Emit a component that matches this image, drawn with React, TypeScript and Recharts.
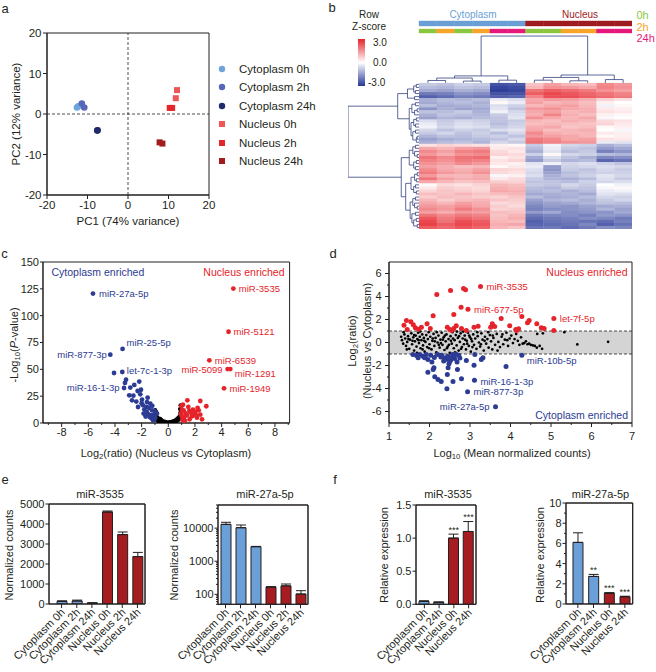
import React from 'react';
import {
  ScatterChart,
  Scatter,
  ComposedChart,
  Bar,
  Cell,
  ErrorBar,
  XAxis,
  YAxis,
  ReferenceArea,
  ReferenceLine,
} from 'recharts';

const INK = '#231f20';
const FONT = '"Liberation Sans", Arial, Helvetica, sans-serif';
const BLUE_PT = '#2c3b93';
const RED_PT = '#e5232a';
const CYTO_BAR = '#6b9fd8';
const NUC_BAR = '#a51d20';
const DENDRO = '#34417f';
const AX = { stroke: INK, strokeWidth: 1 };

// ---------- a: PCA ----------
const pcaCyto0h = [[-12.6, 1.6], [-12.3, 1.9]];
const pcaCyto2h = [[-11.4, 2.6], [-10.8, 1.6]];
const pcaCyto24h = [[-7.6, -4.1], [-7.5, -4.0]];
const pcaNuc0h = [[12.1, 5.9], [11.8, 3.9]];
const pcaNuc2h = [[10.3, 1.5], [10.9, 1.5]];
const pcaNuc24h = [[7.8, -7.0], [8.5, -7.3]];
const pcaTicks = [-20, -10, 0, 10, 20];

// ---------- b: heatmap (row z-scores, 12 samples) ----------
const hmConditions = ['Cytoplasm', 'Cytoplasm', 'Cytoplasm', 'Cytoplasm', 'Cytoplasm', 'Cytoplasm', 'Nucleus', 'Nucleus', 'Nucleus', 'Nucleus', 'Nucleus', 'Nucleus'];
const hmTimes = ['0h', '2h', '0h', '2h', '24h', '24h', '0h', '0h', '2h', '2h', '24h', '24h'];
const heatmap = [
  [-0.8, -0.9, -0.7, -0.8, -2.6, -2.5, 0.8, 1.3, 1.0, 0.9, 1.6, 1.4],
  [-1.0, -1.1, -0.9, -1.0, -2.8, -2.7, 1.0, 1.5, 1.4, 1.2, 1.7, 1.5],
  [-1.3, -1.4, -1.2, -1.3, -2.9, -2.8, 1.9, 2.2, 2.0, 1.8, 1.5, 1.3],
  [-2.0, -1.9, -1.6, -1.7, -2.6, -2.6, 2.2, 2.5, 2.3, 2.1, 1.9, 1.7],
  [-2.4, -2.2, -1.9, -2.0, -2.4, -2.3, 1.7, 2.4, 2.4, 2.2, 2.0, 1.8],
  [-1.2, -1.0, -1.1, -1.0, -0.3, -0.5, 1.2, 1.4, 1.3, 1.1, 0.6, 0.4],
  [-1.3, -1.1, -1.0, -1.2, 0.1, -0.3, 1.3, 1.0, 1.1, 0.9, 0.2, 0.0],
  [-1.0, -1.3, -1.2, -1.1, -0.5, -0.7, 1.0, 1.2, 1.3, 1.0, -0.2, 0.1],
  [-1.6, -1.2, -1.4, -1.3, -0.4, -0.9, 1.4, 1.5, 1.2, 1.1, 0.3, 0.2],
  [-0.9, -1.0, -0.8, -1.2, -0.2, -0.6, 1.2, 1.3, 1.0, 1.1, 0.4, 0.3],
  [-1.2, -0.9, -1.0, -1.1, -0.8, -0.5, 1.1, 1.7, 1.1, 0.9, 0.2, 0.1],
  [-1.4, -1.1, -1.2, -1.0, -0.9, -0.4, 1.5, 1.2, 1.0, 1.2, -0.1, 0.0],
  [-0.5, -0.8, -0.6, -0.7, -0.9, -0.8, 1.0, 0.9, 1.1, 1.0, 0.5, 0.4],
  [-0.3, -0.7, -0.5, -0.6, -1.0, -0.7, 0.9, 1.0, 0.9, 0.8, 0.6, 0.3],
  [-0.2, -0.6, -0.4, -0.5, -0.8, -0.6, 1.1, 1.2, 0.8, 0.9, 0.1, 0.2],
  [-0.6, -0.9, -0.7, -0.8, -0.5, -0.4, 1.2, 0.9, 1.0, 1.1, 0.0, -0.1],
  [-0.8, -0.6, -0.9, -0.7, -1.0, -0.6, 1.6, 1.1, 1.0, 1.0, 0.3, 0.2],
  [-1.1, -0.9, -1.0, -0.8, -0.7, -0.9, 1.4, 1.3, 1.2, 1.0, 0.1, 0.2],
  [-1.4, -1.2, -1.1, -1.0, -0.9, -0.6, 1.8, 1.6, 1.2, 1.3, 0.4, 0.3],
  [-1.2, -1.0, -0.9, -1.1, -0.6, -0.8, 1.9, 1.7, 1.5, 1.4, -0.3, -0.4],
  [0.4, 0.6, 0.5, 0.4, 0.2, 0.1, -0.8, -0.2, -0.6, -0.7, -1.2, -1.0],
  [1.2, 1.0, 1.3, 1.4, 0.3, 0.4, -1.0, -0.3, -0.8, -0.9, -1.5, -1.3],
  [1.6, 1.3, 1.7, 1.8, 0.5, 0.3, -1.2, -0.4, -1.0, -0.8, -1.9, -1.6],
  [1.4, 1.1, 1.5, 1.6, 0.6, 0.5, -0.7, 0.1, -0.6, -0.7, -1.0, -1.1],
  [1.9, 1.6, 1.9, 2.0, 0.2, 0.4, -1.3, -0.5, -0.9, -1.2, -1.8, -1.7],
  [1.7, 1.5, 1.8, 1.7, 0.4, 0.6, -1.5, -0.8, -1.1, -1.0, -2.3, -2.1],
  [1.5, 1.3, 1.6, 1.4, 0.3, 0.2, -0.4, -0.2, -0.6, -0.5, -0.7, -0.9],
  [1.3, 1.1, 0.9, 1.0, 0.1, 0.3, -0.3, -1.5, -0.7, -0.6, -0.5, -0.6],
  [1.6, 1.2, 1.1, 1.3, 0.6, 0.5, -0.5, -1.6, -0.8, -0.9, -0.6, -0.8],
  [1.8, 1.4, 1.2, 1.5, 0.5, 0.4, -0.6, -1.4, -1.0, -0.8, -0.7, -0.7],
  [1.4, 1.0, 1.0, 1.1, -0.1, 0.2, -0.5, -1.2, -0.9, -0.7, -0.4, -0.6],
  [1.9, 1.3, 1.1, 1.2, 0.3, 0.5, -0.8, -1.1, -1.2, -1.0, -0.5, -0.8],
  [1.2, 1.0, 0.8, 0.9, 0.7, 0.6, -0.9, -0.9, -1.0, -0.7, -0.6, -0.5],
  [0.1, 0.5, 0.4, 0.6, 1.0, 0.9, -0.8, -0.9, -0.6, -0.8, 0.0, -0.2],
  [0.3, 0.7, 0.6, 0.5, 1.1, 1.0, -1.0, -1.1, -0.8, -0.9, -0.1, 0.1],
  [0.6, 0.8, 0.7, 0.6, 1.2, 1.1, -1.1, -1.0, -1.2, -1.0, -0.3, -0.2],
  [0.9, 0.8, 1.0, 0.8, 0.9, 1.0, -1.3, -1.2, -1.1, -1.3, -0.4, -0.5],
  [0.7, 0.9, 0.8, 0.7, 0.6, 0.8, -1.0, -1.3, -1.2, -1.0, -0.6, -0.7],
  [1.0, 0.7, 0.9, 1.0, 0.8, 0.7, -1.4, -1.1, -1.0, -1.2, -0.8, -0.6],
  [1.2, 1.0, 1.3, 1.1, 0.5, 0.6, -1.6, -1.4, -1.3, -1.1, -0.9, -1.0],
  [1.4, 1.3, 1.5, 1.2, 0.7, 0.5, -1.8, -1.5, -1.6, -1.4, -1.3, -1.2],
  [1.6, 1.4, 1.8, 1.5, 0.6, 0.7, -1.9, -1.7, -1.6, -1.5, -1.1, -1.4],
  [1.3, 1.1, 1.4, 1.3, 0.9, 0.8, -1.5, -1.3, -1.7, -1.6, -1.6, -1.3],
  [1.9, 1.6, 1.8, 1.7, 0.8, 1.0, -2.0, -1.8, -1.7, -1.9, -1.5, -1.6],
  [2.3, 1.8, 2.1, 1.9, 0.9, 1.1, -2.2, -2.0, -1.9, -1.7, -1.8, -2.0],
  [2.5, 1.9, 2.4, 2.2, 1.0, 0.9, -2.4, -2.1, -2.0, -2.1, -2.2, -1.9],
  [2.6, 2.2, 2.5, 2.3, 1.1, 1.2, -2.3, -2.2, -2.1, -1.8, -2.4, -2.1],
  [2.2, 2.0, 2.3, 2.1, 1.0, 0.8, -2.1, -2.0, -2.2, -2.0, -1.7, -1.8],
];
// dendrograms: [mergeHeight, left, right], leaves are row / column indices
type Tree = number | [number, Tree, Tree];
const rowTree: Tree = [4.0,
  [1.2,
    [0.65, [0.3, [0.15, 0, 1], [0.2, 2, 3]], [0.25, 4, 5]],
    [0.55,
      [0.4, [0.2, 6, 7], [0.25, [0.1, 8, 9], 10]],
      [0.45, [0.3, [0.15, 11, 12], [0.2, 13, 14]], [0.35, [0.2, 15, 16], [0.15, [0.1, 17, 18], 19]]]]],
  [1.0,
    [0.55, [0.35, [0.2, 20, 21], [0.25, 22, [0.1, 23, 24]]], [0.3, [0.15, 25, 26], [0.2, 27, 28]]],
    [0.75,
      [0.45, [0.25, [0.1, 29, 30], [0.15, 31, 32]], [0.3, [0.2, 33, 34], [0.15, 35, 36]]],
      [0.5, [0.35, [0.2, 37, 38], [0.25, 39, [0.1, 40, 41]]], [0.4, [0.2, 42, 43], [0.3, [0.15, 44, 45], [0.1, 46, 47]]]]]]];
const colTree: Tree = [15.4,
  [2.3, [1.6, [0.8, 0, 1], [0.6, 2, 3]], [0.9, 4, 5]],
  [2.6, [1.8, [0.9, 6, 7], [0.7, 8, 9]], [1.1, 10, 11]]];

// ---------- c: volcano (log2 ratio, -log10 p) ----------
const volcanoOther = [
  [-1.0, 9], [-0.98, 12], [-0.95, 6], [-0.92, 10.5], [-0.9, 4.5], [-0.9, 7.5], [-0.85, 3], [-0.8, 5], [-0.8, 2],
  [-0.75, 4], [-0.7, 3.2], [-0.7, 1.5], [-0.65, 2.5], [-0.6, 3.8], [-0.6, 1], [-0.55, 2], [-0.5, 1.4], [-0.5, 2.8],
  [-0.45, 0.8], [-0.4, 1.6], [-0.4, 0.5], [-0.35, 1], [-0.3, 0.6], [-0.25, 1.2], [-0.2, 0.3], [-0.15, 0.7],
  [-0.1, 0.2], [-0.05, 0.4], [0, 0.1], [0.05, 0.5], [0.1, 0.2], [0.15, 0.8], [0.2, 0.4], [0.25, 1.1], [0.3, 0.6],
  [0.35, 1.5], [0.4, 0.9], [0.45, 2.1], [0.5, 1.3], [0.55, 2.8], [0.6, 1.8], [0.65, 3.6], [0.7, 2.4], [0.75, 4.8],
  [0.8, 3.2], [0.85, 6.5], [0.9, 9.5], [0.88, 13], [0.92, 16.5], [0.95, 5],
];
const volcanoCyto = [
  [-4.07, 46.6], [-3.17, 40.4], [-3.25, 37.3], [-2.18, 38.6], [-2.85, 33], [-2.93, 25.8], [-2.62, 25.5], [-2.3, 29.8],
  [-2.1, 26.7], [-1.97, 21.8], [-1.55, 23.6], [-2.27, 14.9], [-1.65, 14.9], [-1.6, 10.2], [-1.35, 18], [-1.22, 11.8],
  [-1.1, 7.2], [-0.98, 5], [-0.85, 8.8], [-1.3, 7.2], [-2.72, 21.1], [-1.85, 8.8], [-2.0, 18.5], [-1.8, 12.5],
  [-1.45, 14], [-1.25, 4.5], [-1.15, 2.5], [-1.4, 5.5], [-1.05, 3], [-1.5, 8], [-1.7, 6], [-1.9, 16.5], [-2.4, 20],
  [-1.2, 16], [-1.02, 11], [-1.6, 19.5], [-2.55, 35.5], [-2.05, 31],
];
const volcanoNuc = [
  [1.43, 21.1], [2.4, 20.5], [2.85, 15.6], [0.98, 15.6], [1.15, 11.8], [1.58, 11.2], [1.85, 12.5], [2.03, 10.3],
  [2.28, 11.8], [0.95, 8.8], [1.4, 7.2], [1.78, 6.2], [2.15, 5], [2.4, 7.8], [2.53, 3.4], [1.05, 3], [1.2, 5.5],
  [1.3, 9], [1.6, 3.5], [1.0, 6.5], [1.7, 9.5], [1.95, 8], [2.2, 14], [1.25, 2], [1.02, 12], [1.5, 15], [2.1, 7],
  [1.1, 17],
];
const volcanoCytoNamed = [
  { name: 'miR-27a-5p', x: -5.65, y: 120.6 },
  { name: 'miR-25-5p', x: -3.43, y: 69 },
  { name: 'miR-877-3p', x: -4.35, y: 63.7 },
  { name: 'let-7c-1-3p', x: -3.45, y: 47.5 },
  { name: 'miR-16-1-3p', x: -3.32, y: 32.6 },
];
const volcanoNucNamed = [
  { name: 'miR-3535', x: 4.88, y: 125.2 },
  { name: 'miR-5121', x: 4.52, y: 85 },
  { name: 'miR-6539', x: 3.08, y: 58.4 },
  { name: 'miR-5099', x: 4.45, y: 50.2 },
  { name: 'miR-1291', x: 4.65, y: 50.2 },
  { name: 'miR-1949', x: 4.18, y: 32.3 },
];

// ---------- d: MA plot (log10 mean counts, log2 ratio) ----------
const maOther = [
  [1.3, 0.5], [1.32, 0.2], [1.35, -0.1], [1.38, 0.7], [1.4, 0.35], [1.42, -0.3], [1.45, 0.05], [1.47, 0.55], [1.5, -0.55],
  [1.52, 0.25], [1.55, 0.8], [1.57, -0.15], [1.6, 0.45], [1.62, -0.7], [1.64, 0.1], [1.66, 0.6], [1.68, -0.35], [1.7, 0.3],
  [1.72, 0.85], [1.74, -0.05], [1.76, 0.5], [1.78, -0.5], [1.8, 0.2], [1.82, 0.7], [1.84, -0.25], [1.86, 0.4], [1.88, -0.8],
  [1.9, 0.05], [1.92, 0.65], [1.94, -0.4], [1.96, 0.3], [1.98, 0.9], [2.0, -0.15], [2.02, 0.5], [2.05, -0.6], [2.07, 0.15],
  [2.1, 0.75], [2.12, -0.3], [2.15, 0.4], [2.17, -0.85], [2.2, 0.0], [2.22, 0.6], [2.25, -0.45], [2.27, 0.25], [2.3, 0.85],
  [2.32, -0.2], [2.35, 0.45], [2.37, -0.65], [2.4, 0.1], [2.42, 0.7], [2.45, -0.35], [2.47, 0.3], [2.5, -0.9], [2.52, 0.55],
  [2.55, -0.1], [2.57, 0.9], [2.6, -0.5], [2.62, 0.2], [2.65, 0.65], [2.67, -0.25], [2.7, 0.4], [2.72, -0.7], [2.75, 0.05],
  [2.77, 0.8], [2.8, -0.4], [2.82, 0.35], [2.85, -0.15], [2.87, 0.6], [2.9, -0.6], [2.92, 0.15], [2.95, 0.85], [2.97, -0.3],
  [3.0, 0.45], [3.02, -0.8], [3.05, 0.1], [3.08, 0.7], [3.1, -0.2], [3.13, 0.35], [3.16, -0.55], [3.19, 0.55], [3.22, 0.0],
  [3.25, -0.35], [3.28, 0.8], [3.31, 0.25], [3.34, -0.7], [3.37, 0.5], [3.4, -0.1], [3.43, 0.3], [3.46, -0.45], [3.49, 0.65],
  [3.52, 0.1], [3.55, -0.6], [3.58, 0.4], [3.62, -0.2], [3.66, 0.75], [3.7, 0.05], [3.74, -0.4], [3.78, 0.5], [3.82, -0.15],
  [3.86, 0.25], [3.9, 0.85], [3.94, -0.3], [3.98, 0.35], [4.02, 0.6], [4.06, -0.05], [4.1, 0.3], [4.14, 0.75], [4.18, 0.15],
  [4.22, -0.2], [4.26, 0.45], [4.3, -0.1], [4.34, -0.05], [4.38, 0.1], [4.42, -0.15], [4.46, -0.1], [4.5, -0.2], [4.55, -0.25],
  [4.6, -0.3], [4.65, -0.45], [4.72, -0.3], [4.78, -0.55], [4.66, 0.75], [4.8, 0.8], [5.33, 0.9], [5.65, -0.17], [6.41, 0.06],
  [1.36, 0.9], [1.44, -0.6], [1.58, 0.15], [1.69, -0.9], [1.77, 0.95], [1.87, 0.15], [1.99, -0.5], [2.08, 0.35], [2.18, 0.9],
  [2.28, -0.05], [2.38, 0.6], [2.48, -0.2], [2.58, 0.35], [2.68, 0.95], [2.78, -0.55], [2.88, 0.25], [2.98, 0.6], [3.06, -0.4],
  [3.18, 0.9], [3.27, -0.15], [3.36, 0.15], [3.45, 0.9], [3.56, 0.6], [3.68, -0.7], [3.8, 0.7], [3.92, 0.2], [1.48, 0.3],
  [1.62, 0.65], [1.73, 0.2], [1.83, -0.6], [2.13, 0.1], [2.23, -0.2], [2.33, 0.25], [2.43, -0.5], [2.53, 0.15], [2.63, -0.85],
  [2.73, 0.55], [2.83, 0.95], [2.93, -0.1], [3.03, 0.3],
];
const maNuc = [
  [2.84, 4.7], [2.89, 4.58], [2.52, 4.52], [2.18, 4.17], [2.78, 3.07], [2.6, 2.43], [2.09, 2.32], [3.77, 2.09], [4.28, 2.26],
  [4.46, 1.91], [4.42, 1.71], [3.55, 1.63], [3.98, 1.45], [4.65, 1.63], [4.76, 1.28], [4.83, 1.22], [5.07, 1.04], [4.13, 1.13],
  [4.15, 1.05], [4.2, 1.2], [1.43, 1.91], [1.54, 1.8], [1.37, 1.5], [1.65, 1.28], [1.73, 1.16], [1.8, 1.33], [1.94, 1.63],
  [2.02, 1.22], [1.45, 1.13], [2.44, 1.33], [2.5, 1.13], [2.6, 1.22], [2.66, 1.45], [2.79, 1.22], [2.91, 1.04], [3.1, 1.33],
  [3.2, 1.42], [3.51, 1.33], [3.61, 1.39], [2.55, 1.05], [1.6, 1.55],
];
const maCyto = [
  [2.43, -4.03], [2.79, -3.16], [2.58, -3.39], [2.29, -3.39], [2.21, -3.22], [2.13, -2.98], [1.96, -2.58], [2.44, -2.78],
  [2.11, -2.2], [2.09, -2.35], [3.89, -2.09], [3.1, -1.97], [2.91, -1.57], [2.69, -2.35], [2.46, -2.2], [3.32, -1.33],
  [3.28, -1.48], [3.12, -1.04], [1.59, -1.05], [1.68, -1.13], [1.76, -1.05], [1.84, -1.19], [1.92, -1.04], [1.88, -1.33],
  [1.72, -1.33], [2.03, -1.1], [1.96, -1.48], [2.3, -1.1], [2.38, -1.35], [2.45, -1.2], [2.52, -1.55], [2.57, -1.05],
  [2.62, -1.4], [2.68, -1.7], [2.35, -1.6], [2.48, -1.85], [2.6, -1.2], [2.72, -1.1], [2.42, -1.45], [2.55, -1.3],
  [2.65, -1.0], [2.28, -1.25], [2.5, -1.65], [2.75, -1.35], [2.2, -1.05], [2.12, -1.3], [2.06, -1.7],
];
const maNucNamed = [
  { name: 'miR-3535', x: 3.26, y: 4.87 },
  { name: 'miR-677-5p', x: 2.95, y: 2.9 },
  { name: 'let-7f-5p', x: 5.07, y: 2.09 },
];
const maCytoNamed = [
  { name: 'miR-10b-5p', x: 4.28, y: -1.1 },
  { name: 'miR-16-1-3p', x: 3.11, y: -3.28 },
  { name: 'miR-877-3p', x: 2.94, y: -4.29 },
  { name: 'miR-27a-5p', x: 3.63, y: -5.59 },
];

// ---------- e / f: bar charts ----------
const groupsE = ['Cytoplasm 0h', 'Cytoplasm 2h', 'Cytoplasm 24h', 'Nucleus 0h', 'Nucleus 2h', 'Nucleus 24h'];
const e3535Mean = [130, 150, 50, 4600, 3470, 2370];
const e3535Err = [30, 45, 10, 50, 130, 210];
const e27aMean = [13000, 10300, 2750, 165, 180, 102];
const e27aErr = [2000, 2150, 60, 6, 25, 27];
const groupsF = ['Cytoplasm 0h', 'Cytoplasm 24h', 'Nucleus 0h', 'Nucleus 24h'];
const f3535Mean = [0.045, 0.03, 1.0, 1.1];
const f3535Err = [0.008, 0.006, 0.06, 0.15];
const f3535Sig = ['', '', '***', '***'];
const f27aMean = [6.1, 2.73, 1.05, 0.72];
const f27aErr = [0.95, 0.2, 0.08, 0.05];
const f27aSig = ['', '**', '***', '***'];
const logTicks = [50, 60, 70, 80, 90, 100, 200, 300, 400, 500, 600, 700, 800, 900, 1000, 2000, 3000, 4000, 5000, 6000, 7000, 8000, 9000, 10000, 20000, 30000, 40000, 50000];

const toPts = (a: number[][]) => a.map(([x, y]) => ({ x, y }));

const PCA_COLORS: Record<string, string> = {
  'Cytoplasm 0h': '#6fa3dc',
  'Cytoplasm 2h': '#5866b8',
  'Cytoplasm 24h': '#1f2a6b',
  'Nucleus 0h': '#ef5658',
  'Nucleus 2h': '#e3262b',
  'Nucleus 24h': '#a11b1f',
};
const TIME_COLORS: Record<string, string> = { '0h': '#8cc63f', '2h': '#f7a428', '24h': '#e6177b' };
const COND_COLORS: Record<string, string> = { Cytoplasm: '#6a9fd5', Nucleus: '#9e1b20' };

// label placement for named points: dx, dy, anchor
const C_LABEL_POS: Record<string, [number, number, string]> = {
  'miR-27a-5p': [6, 0, 'start'],
  'miR-25-5p': [4, -6, 'start'],
  'miR-877-3p': [-3.5, 0, 'end'],
  'let-7c-1-3p': [4.5, -1, 'start'],
  'miR-16-1-3p': [-4.5, 0, 'end'],
  'miR-3535': [5.5, 0, 'start'],
  'miR-5121': [5, 0, 'start'],
  'miR-6539': [5.5, 0, 'start'],
  'miR-5099': [-5, 0, 'end'],
  'miR-1291': [4.5, 4, 'start'],
  'miR-1949': [5.5, 0, 'start'],
};
const D_LABEL_POS: Record<string, [number, number, string]> = {
  'miR-3535': [6, 0, 'start'],
  'miR-677-5p': [6, 0, 'start'],
  'let-7f-5p': [6, 0, 'start'],
  'miR-10b-5p': [5, 5, 'start'],
  'miR-16-1-3p': [6, 1, 'start'],
  'miR-877-3p': [6, 0, 'start'],
  'miR-27a-5p': [-6, 0, 'end'],
};

// place a chart so that its plot area lands on [x0,x1]x[y0,y1]
function place(x0: number, x1: number, y0: number, y1: number, l: number, r: number, t: number, b: number) {
  return {
    style: { position: 'absolute' as const, left: x0 - l, top: y0 - t },
    width: l + (x1 - x0) + r,
    height: t + (y1 - y0) + b,
    margin: { top: t, right: r, bottom: 0, left: 0 },
    yw: l,
    xh: b,
  };
}

function bottomTick(fmt: (v: number) => string | null, len: number, minor: number, gap: number, size: number) {
  return (p: any) => {
    const s = fmt(p.payload.value);
    const L = s === null ? minor : len;
    return (
      <g>
        <line x1={p.x} x2={p.x} y1={p.y} y2={p.y + L} stroke={INK} strokeWidth={1} />
        {s !== null && (
          <text x={p.x} y={p.y + L + gap} dy="0.75em" textAnchor="middle" fontSize={size} fontFamily={FONT} fill={INK}>
            {s}
          </text>
        )}
      </g>
    );
  };
}

function leftTick(fmt: (v: number) => string | null, len: number, minor: number, gap: number, size: number) {
  return (p: any) => {
    const s = fmt(p.payload.value);
    const L = s === null ? minor : len;
    return (
      <g>
        <line x1={p.x} x2={p.x - L} y1={p.y} y2={p.y} stroke={INK} strokeWidth={1} />
        {s !== null && (
          <text x={p.x - L - gap} y={p.y} dy="0.36em" textAnchor="end" fontSize={size} fontFamily={FONT} fill={INK}>
            {s}
          </text>
        )}
      </g>
    );
  };
}

// rotated group names under the bars (x axis is the group index)
const catTick = (names: string[]) => (p: any) => {
  const ax = p.x + 4;
  const ay = p.y + 9;
  return (
    <g>
      <line x1={p.x} x2={p.x} y1={p.y} y2={p.y + 4} stroke={INK} strokeWidth={1} />
      <text x={ax} y={ay} textAnchor="end" transform={`rotate(-45 ${ax} ${ay})`} fontSize={11} fontFamily={FONT} fill={INK}>
        {names[p.payload.value]}
      </text>
    </g>
  );
};

const dot = (r: number, fill: string) => (p: any) => <circle cx={p.cx} cy={p.cy} r={r} fill={fill} />;

const namedDot = (r: number, fill: string, pos: Record<string, [number, number, string]>) => (p: any) => {
  const o = pos[p.payload.name] || [6, 0, 'start'];
  return (
    <g>
      <circle cx={p.cx} cy={p.cy} r={r} fill={fill} />
      <text x={p.cx + o[0]} y={p.cy + o[1]} dy="0.36em" textAnchor={o[2] as any} fontSize={9.5} fontFamily={FONT} fill={fill}>
        {p.payload.name}
      </text>
    </g>
  );
};

function Txt({ x, y, children, size = 11, color = INK, anchor = 'middle', rotate = 0 }: any) {
  const tx = anchor === 'middle' ? '-50%' : anchor === 'end' ? '-100%' : '0%';
  return (
    <div
      style={{
        position: 'absolute',
        left: x,
        top: y,
        transform: `translate(${tx}, -50%)${rotate ? ` rotate(${rotate}deg)` : ''}`,
        fontSize: size,
        color,
        whiteSpace: 'nowrap',
        lineHeight: 1,
      }}
    >
      {children}
    </div>
  );
}

const Sub = ({ children }: any) => (
  <span style={{ fontSize: '0.7em', position: 'relative', top: '0.3em' }}>{children}</span>
);

function PanelA() {
  const f = place(47, 209, 33, 195, 36, 12, 8, 22);
  const series = [
    { name: 'Cytoplasm 0h', pts: pcaCyto0h, sq: false },
    { name: 'Cytoplasm 2h', pts: pcaCyto2h, sq: false },
    { name: 'Cytoplasm 24h', pts: pcaCyto24h, sq: false },
    { name: 'Nucleus 0h', pts: pcaNuc0h, sq: true },
    { name: 'Nucleus 2h', pts: pcaNuc2h, sq: true },
    { name: 'Nucleus 24h', pts: pcaNuc24h, sq: true },
  ];
  return (
    <>
      <div style={f.style}>
        <ScatterChart width={f.width} height={f.height} margin={f.margin}>
          <XAxis type="number" dataKey="x" domain={[-20, 20]} allowDataOverflow ticks={pcaTicks} interval={0} height={f.xh}
            tickSize={0} tickMargin={0} tickLine={false} axisLine={AX} tick={bottomTick(String, 4, 2, 1, 11.5)} />
          <YAxis type="number" dataKey="y" domain={[-20, 20]} allowDataOverflow ticks={pcaTicks} interval={0} width={f.yw}
            tickSize={0} tickMargin={0} tickLine={false} axisLine={AX} tick={leftTick(String, 4, 2, 1.5, 11.5)} />
          <ReferenceArea x1={-20} x2={20} y1={-20} y2={20} fill="none" stroke={INK} strokeWidth={1} />
          <ReferenceLine x={0} stroke={INK} strokeWidth={0.8} strokeDasharray="3 2" />
          <ReferenceLine y={0} stroke={INK} strokeWidth={0.8} strokeDasharray="3 2" />
          {series.map((s) => (
            <Scatter
              key={s.name}
              name={s.name}
              data={toPts(s.pts)}
              isAnimationActive={false}
              shape={(p: any) =>
                s.sq ? (
                  <rect x={p.cx - 3} y={p.cy - 3} width={6} height={6} fill={PCA_COLORS[s.name]} />
                ) : (
                  <circle cx={p.cx} cy={p.cy} r={3.3} fill={PCA_COLORS[s.name]} />
                )
              }
            />
          ))}
        </ScatterChart>
      </div>
      {series.map((s, i) => (
        <div key={s.name} style={{ position: 'absolute', left: 218, top: 69 + i * 18.4 - 7, height: 14, display: 'flex', alignItems: 'center' }}>
          <svg width={8} height={8}>
            {s.sq ? <rect x={1} y={1} width={6} height={6} fill={PCA_COLORS[s.name]} /> : <circle cx={4} cy={4} r={3.2} fill={PCA_COLORS[s.name]} />}
          </svg>
          <span style={{ marginLeft: 13, fontSize: 11.5 }}>{s.name}</span>
        </div>
      ))}
      <Txt x={128} y={222} size={11.5}>PC1 (74% variance)</Txt>
      <Txt x={16.5} y={114} size={11.5} rotate={-90}>PC2 (12% variance)</Txt>
      <Txt x={5} y={8} size={13}>a</Txt>
    </>
  );
}

type Seg = [number, number, number, number];
function dendro(t: Tree, segs: Seg[]): [number, number] {
  if (typeof t === 'number') return [t + 0.5, 0];
  const [h, a, b] = t;
  const [pa, ha] = dendro(a, segs);
  const [pb, hb] = dendro(b, segs);
  segs.push([pa, ha, pa, h], [pb, hb, pb, h], [pa, h, pb, h]);
  return [(pa + pb) / 2, h];
}

function zColor(v: number) {
  const t = Math.max(-1, Math.min(1, v / 3));
  const end = t > 0 ? [230, 35, 42] : [40, 56, 150];
  const a = Math.abs(t);
  const c = end.map((e) => Math.round(255 + (e - 255) * a));
  return `rgb(${c[0]},${c[1]},${c[2]})`;
}

function PanelB() {
  const HM_W = 284;
  const HM_H = 210;
  const XD = [-4, 12];
  const YD = [-21, 48];
  const cw = HM_W / (XD[1] - XD[0]);
  const ch = HM_H / (YD[1] - YD[0]);
  const cells = heatmap.flatMap((row, r) => row.map((v, c) => ({ x: c + 0.5, y: r + 0.5, v })));
  const rowSegs: Seg[] = [];
  dendro(rowTree, rowSegs);
  const colSegs: Seg[] = [];
  dendro(colTree, colSegs);
  return (
    <>
      <div style={{ position: 'absolute', left: 348, top: 19 }}>
        <ScatterChart width={HM_W} height={HM_H} margin={{ top: 0, right: 0, bottom: 0, left: 0 }}>
          <XAxis type="number" dataKey="x" domain={XD} allowDataOverflow hide />
          <YAxis type="number" dataKey="y" domain={YD} allowDataOverflow reversed hide />
          {hmConditions.map((c, i) => (
            <ReferenceArea key={'c' + i} x1={i} x2={i + 1} y1={-20.35} y2={-18.7} fill={COND_COLORS[c]} fillOpacity={1}
              stroke={COND_COLORS[c]} strokeWidth={0.4} />
          ))}
          {hmTimes.map((t, i) => (
            <ReferenceArea key={'t' + i} x1={i} x2={i + 1} y1={-17.7} y2={-16.4} fill={TIME_COLORS[t]} fillOpacity={1}
              stroke={TIME_COLORS[t]} strokeWidth={0.4} />
          ))}
          <Scatter
            data={cells}
            isAnimationActive={false}
            shape={(p: any) => (
              <rect x={p.cx - cw / 2} y={p.cy - ch / 2} width={cw + 0.3} height={ch + 0.4} fill={zColor(p.payload.v)} />
            )}
          />
          {rowSegs.map(([p1, h1, p2, h2], i) => (
            <ReferenceLine key={'r' + i} segment={[{ x: -h1, y: p1 }, { x: -h2, y: p2 }]} stroke={DENDRO} strokeWidth={0.8} ifOverflow="visible" />
          ))}
          {colSegs.map(([p1, h1, p2, h2], i) => (
            <ReferenceLine key={'k' + i} segment={[{ x: p1, y: -h1 }, { x: p2, y: -h2 }]} stroke={DENDRO} strokeWidth={0.8} ifOverflow="visible" />
          ))}
        </ScatterChart>
      </div>
      <div style={{ position: 'absolute', left: 358, top: 39, width: 7, height: 47, background: 'linear-gradient(to bottom, rgb(230,35,42), #ffffff, rgb(40,56,150))' }} />
      <Txt x={369} y={15} size={10}>Row</Txt>
      <Txt x={369} y={27} size={10}>Z-score</Txt>
      <Txt x={373} y={43} size={10} anchor="start">3.0</Txt>
      <Txt x={373} y={63} size={10} anchor="start">0.0</Txt>
      <Txt x={368} y={83} size={10} anchor="start">-3.0</Txt>
      <Txt x={473} y={15} size={10} color={COND_COLORS.Cytoplasm}>Cytoplasm</Txt>
      <Txt x={580} y={15} size={10} color={COND_COLORS.Nucleus}>Nucleus</Txt>
      <Txt x={636.5} y={15} size={11} anchor="start" color={TIME_COLORS['0h']}>0h</Txt>
      <Txt x={636.5} y={26.5} size={11} anchor="start" color={TIME_COLORS['2h']}>2h</Txt>
      <Txt x={636.5} y={38} size={11} anchor="start" color={TIME_COLORS['24h']}>24h</Txt>
      <Txt x={332} y={7} size={13}>b</Txt>
    </>
  );
}

function PanelC() {
  const f = place(42.7, 289.3, 261.7, 422.7, 36, 6, 9, 22);
  const xt = [-9, -8, -7, -6, -5, -4, -3, -2, -1, 0, 1, 2, 3, 4, 5, 6, 7, 8, 9];
  return (
    <>
      <div style={f.style}>
        <ScatterChart width={f.width} height={f.height} margin={f.margin}>
          <XAxis type="number" dataKey="x" domain={[-9.4, 9.1]} allowDataOverflow ticks={xt} interval={0} height={f.xh}
            tickSize={0} tickMargin={0} tickLine={false} axisLine={AX}
            tick={bottomTick((v) => (v % 2 === 0 ? String(v) : null), 4, 2, 1, 11)} />
          <YAxis type="number" dataKey="y" domain={[0, 150]} allowDataOverflow ticks={[0, 25, 50, 75, 100, 125, 150]} interval={0}
            width={f.yw} tickSize={0} tickMargin={0} tickLine={false} axisLine={AX} tick={leftTick(String, 3, 2, 1, 11)} />
          <ReferenceArea x1={-9.4} x2={9.1} y1={0} y2={150} fill="none" stroke={INK} strokeWidth={1} />
          <Scatter data={toPts(volcanoOther)} isAnimationActive={false} shape={dot(2.1, '#000')} />
          <Scatter data={toPts(volcanoCyto)} isAnimationActive={false} shape={dot(2.4, BLUE_PT)} />
          <Scatter data={toPts(volcanoNuc)} isAnimationActive={false} shape={dot(2.4, RED_PT)} />
          <Scatter data={volcanoCytoNamed} isAnimationActive={false} shape={namedDot(2.4, BLUE_PT, C_LABEL_POS)} />
          <Scatter data={volcanoNucNamed} isAnimationActive={false} shape={namedDot(2.4, RED_PT, C_LABEL_POS)} />
        </ScatterChart>
      </div>
      <Txt x={51.5} y={272} size={10.5} anchor="start" color={BLUE_PT}>Cytoplasm enriched</Txt>
      <Txt x={284.5} y={272} size={10.5} anchor="end" color={RED_PT}>Nucleus enriched</Txt>
      <Txt x={166} y={453} size={11}>Log<Sub>2</Sub>(ratio) (Nucleus vs Cytoplasm)</Txt>
      <Txt x={13.5} y={345} size={11} rotate={-90}>-Log<Sub>10</Sub>(<i>P</i>-value)</Txt>
      <Txt x={4.5} y={253} size={13}>c</Txt>
    </>
  );
}

function PanelD() {
  const f = place(389.3, 632.3, 261.7, 422.7, 30, 8, 9, 24);
  const xt = [1, 1.5, 2, 2.5, 3, 3.5, 4, 4.5, 5, 5.5, 6, 6.5, 7];
  const yt = [-6, -5, -4, -3, -2, -1, 0, 1, 2, 3, 4, 5, 6];
  return (
    <>
      <div style={f.style}>
        <ScatterChart width={f.width} height={f.height} margin={f.margin}>
          <XAxis type="number" dataKey="x" domain={[1, 7]} allowDataOverflow ticks={xt} interval={0} height={f.xh}
            tickSize={0} tickMargin={0} tickLine={false} axisLine={AX}
            tick={bottomTick((v) => (Number.isInteger(v) ? String(v) : null), 4, 2, 5, 11)} />
          <YAxis type="number" dataKey="y" domain={[-7, 7]} allowDataOverflow ticks={yt} interval={0} width={f.yw}
            tickSize={0} tickMargin={0} tickLine={false} axisLine={AX}
            tick={leftTick((v) => (v % 2 === 0 ? String(v) : null), 4, 2, 3.5, 11)} />
          <ReferenceArea x1={1} x2={7} y1={-1} y2={1} fill="#d4d4d4" fillOpacity={1} />
          <ReferenceLine y={1} stroke={INK} strokeWidth={0.8} strokeDasharray="3 2" />
          <ReferenceLine y={-1} stroke={INK} strokeWidth={0.8} strokeDasharray="3 2" />
          <ReferenceArea x1={1} x2={7} y1={-7} y2={7} fill="none" stroke={INK} strokeWidth={1} />
          <Scatter data={toPts(maOther)} isAnimationActive={false} shape={dot(1.35, '#000')} />
          <Scatter data={toPts(maNuc)} isAnimationActive={false} shape={dot(2.5, RED_PT)} />
          <Scatter data={toPts(maCyto)} isAnimationActive={false} shape={dot(2.5, BLUE_PT)} />
          <Scatter data={maNucNamed} isAnimationActive={false} shape={namedDot(2.5, RED_PT, D_LABEL_POS)} />
          <Scatter data={maCytoNamed} isAnimationActive={false} shape={namedDot(2.5, BLUE_PT, D_LABEL_POS)} />
        </ScatterChart>
      </div>
      <Txt x={627.5} y={272} size={10.5} anchor="end" color={RED_PT}>Nucleus enriched</Txt>
      <Txt x={628} y={415} size={10.5} anchor="end" color={BLUE_PT}>Cytoplasm enriched</Txt>
      <Txt x={512} y={453} size={11}>Log<Sub>10</Sub> (Mean normalized counts)</Txt>
      <Txt x={351.5} y={341} size={11} rotate={-90}>Log<Sub>2</Sub>(ratio)</Txt>
      <Txt x={366.5} y={341} size={11} rotate={-90}>(Nucleus vs Cytoplasm)</Txt>
      <Txt x={333} y={253} size={13}>d</Txt>
    </>
  );
}

// box around a plot area, drawn by a transparent chart laid over it
function PlotFrame({ x0, x1, y0, y1 }: any) {
  const pad = 4;
  return (
    <div style={{ position: 'absolute', left: x0 - pad, top: y0 - pad, pointerEvents: 'none' }}>
      <ScatterChart width={x1 - x0 + 2 * pad} height={y1 - y0 + 2 * pad} margin={{ top: pad, right: pad, bottom: pad, left: pad }}>
        <XAxis type="number" dataKey="x" domain={[0, 1]} allowDataOverflow hide />
        <YAxis type="number" dataKey="y" domain={[0, 1]} allowDataOverflow hide />
        <ReferenceArea x1={0} x2={1} y1={0} y2={1} fill="none" stroke={INK} strokeWidth={1} />
        <ReferenceLine x={1} stroke={INK} strokeWidth={1} />
      </ScatterChart>
    </div>
  );
}

function BarPanel(props: any) {
  const { names, mean, err, sig, x0, x1, y0, y1, padL, yDomain, yTicks, yFmt, log, title, titleX, yTitle, yTitleX } = props;
  const f = place(x0, x1, y0, y1, 46, 6, 8, 80);
  const n = names.length;
  // x axis is the group index; each group gets one unit, the axis starts padL px left of the first band
  const band = (x1 - x0 - padL) / n;
  const xLo = -0.5 - padL / band;
  const xHi = n - 0.5;
  const data = names.map((nm: string, i: number) => ({
    i,
    name: nm,
    v: mean[i],
    e: [0, err[i]],
    s: sig ? sig[i] : '',
    top: mean[i] + err[i],
  }));
  return (
    <>
      <div style={f.style}>
        <ComposedChart width={f.width} height={f.height} data={data} margin={f.margin}>
          <XAxis dataKey="i" type="number" domain={[xLo, xHi]} allowDataOverflow ticks={names.map((_: string, i: number) => i)}
            interval={0} height={f.xh} tickSize={0} tickMargin={0} tickLine={false} axisLine={AX} tick={catTick(names)} />
          <YAxis type="number" scale={log ? 'log' : 'linear'} domain={yDomain} allowDataOverflow ticks={yTicks} interval={0}
            width={f.yw} tickSize={0} tickMargin={0} tickLine={false} axisLine={AX} tick={leftTick(yFmt, 3.5, 2, 1, 11)} />
          <ReferenceLine y={yDomain[1]} stroke={INK} strokeWidth={1} />
          <Bar dataKey="v" barSize={10} stroke={INK} strokeWidth={1} isAnimationActive={false}>
            {data.map((d: any, i: number) => (
              <Cell key={i} fill={d.name.startsWith('Cytoplasm') ? CYTO_BAR : NUC_BAR} />
            ))}
            <ErrorBar dataKey="e" width={5} stroke={INK} strokeWidth={1} />
          </Bar>
          {sig && (
            <Scatter
              dataKey="top"
              isAnimationActive={false}
              shape={(p: any) =>
                p.payload.s ? (
                  <text x={p.cx} y={p.cy - 1.5} textAnchor="middle" fontSize={9} fontFamily={FONT} fill={INK}>
                    {p.payload.s}
                  </text>
                ) : (
                  <g />
                )
              }
            />
          )}
        </ComposedChart>
      </div>
      <PlotFrame x0={x0} x1={x1} y0={y0} y1={y1} />
      <Txt x={titleX} y={493.5} size={11}>{title}</Txt>
      <Txt x={yTitleX} y={555} size={11} rotate={-90}>{yTitle}</Txt>
    </>
  );
}

function PanelE() {
  return (
    <>
      <BarPanel names={groupsE} mean={e3535Mean} err={e3535Err} x0={49.3} x1={145.3} y0={504.3} y1={604.3} padL={5}
        yDomain={[0, 5000]} yTicks={[0, 1000, 2000, 3000, 4000, 5000]} yFmt={String}
        title="miR-3535" titleX={100} yTitle="Normalized counts" yTitleX={8.5} />
      <BarPanel names={groupsE} mean={e27aMean} err={e27aErr} x0={218.3} x1={308.3} y0={505} y1={604.3} padL={0}
        yDomain={[50, 50000]} yTicks={logTicks} log
        yFmt={(v: number) => (v === 100 || v === 1000 || v === 10000 ? String(v) : null)}
        title="miR-27a-5p" titleX={265} yTitle="Normalized counts" yTitleX={174} />
      <Txt x={5} y={479} size={13}>e</Txt>
    </>
  );
}

function PanelF() {
  return (
    <>
      <BarPanel names={groupsF} mean={f3535Mean} err={f3535Err} sig={f3535Sig} x0={416} x1={476} y0={505} y1={604.3} padL={1}
        yDomain={[0, 1.5]} yTicks={[0, 0.5, 1, 1.5]} yFmt={(v: number) => v.toFixed(1)}
        title="miR-3535" titleX={448} yTitle="Relative expression" yTitleX={383.5} />
      <BarPanel names={groupsF} mean={f27aMean} err={f27aErr} sig={f27aSig} x0={566} x1={632.7} y0={503.3} y1={604.3} padL={4}
        yDomain={[0, 10]} yTicks={[0, 1, 2, 3, 4, 5, 6, 7, 8, 9, 10]} yFmt={(v: number) => (v % 2 === 0 ? String(v) : null)}
        title="miR-27a-5p" titleX={600.5} yTitle="Relative expression" yTitleX={540} />
      <Txt x={335} y={479} size={13}>f</Txt>
    </>
  );
}

export default function App() {
  return (
    <div
      style={{
        position: 'absolute',
        left: 0,
        top: 0,
        width: 656,
        height: 672,
        background: '#fff',
        overflow: 'hidden',
        fontFamily: FONT,
        color: INK,
      }}
    >
      <PanelA />
      <PanelB />
      <PanelC />
      <PanelD />
      <PanelE />
      <PanelF />
    </div>
  );
}
